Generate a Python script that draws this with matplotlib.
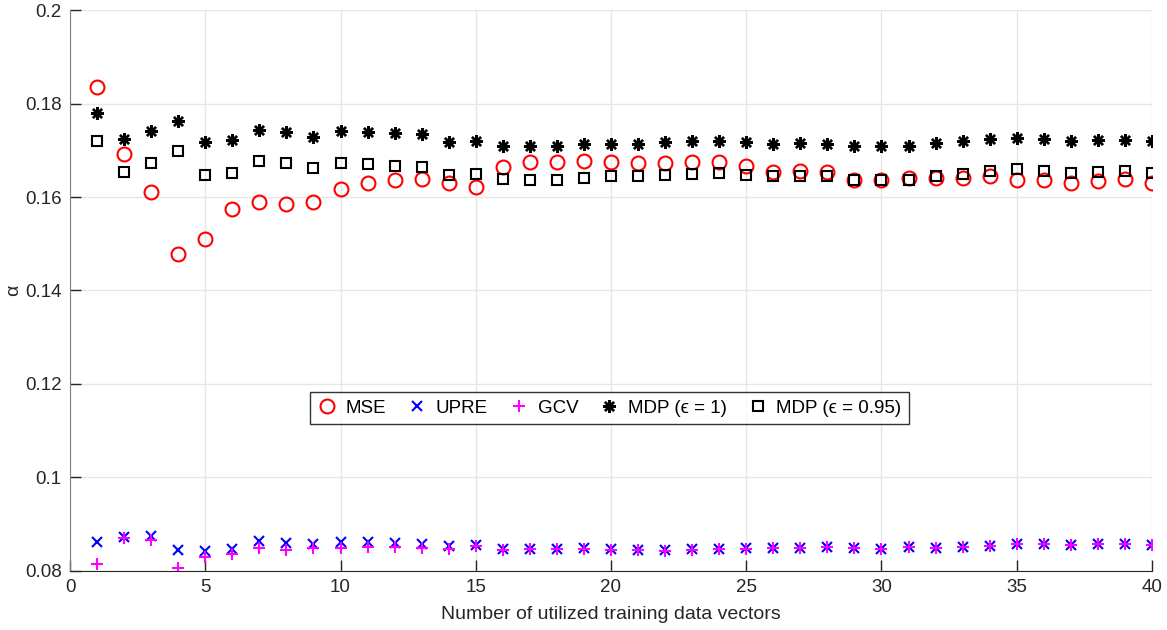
import matplotlib
matplotlib.use('Agg')
import matplotlib.pyplot as plt
import numpy as np

plt.rcParams['font.family'] = ['Liberation Sans', 'DejaVu Sans']

n_vectors = np.arange(1, 41)

mse = [0.1836, 0.1693, 0.1611, 0.1477, 0.1511, 0.1574, 0.1589, 0.1586, 0.1589, 0.1617,
       0.1630, 0.1636, 0.1639, 0.1631, 0.1621, 0.1664, 0.1674, 0.1675, 0.1678, 0.1674,
       0.1673, 0.1672, 0.1674, 0.1674, 0.1667, 0.1653, 0.1656, 0.1654, 0.1636, 0.1637,
       0.1641, 0.1641, 0.1641, 0.1644, 0.1636, 0.1636, 0.1631, 0.1634, 0.1638, 0.1630]
upre = [0.0863, 0.0872, 0.0875, 0.0844, 0.0843, 0.0847, 0.0864, 0.0859, 0.0858, 0.0861,
        0.0861, 0.0859, 0.0857, 0.0853, 0.0855, 0.0846, 0.0847, 0.0848, 0.0849, 0.0846,
        0.0845, 0.0844, 0.0846, 0.0847, 0.0849, 0.0849, 0.0849, 0.0851, 0.0850, 0.0848,
        0.0852, 0.0850, 0.0852, 0.0854, 0.0857, 0.0857, 0.0856, 0.0857, 0.0857, 0.0856]
gcv = [0.0815, 0.0870, 0.0866, 0.0807, 0.0829, 0.0836, 0.0849, 0.0844, 0.0849, 0.0849,
       0.0852, 0.0851, 0.0850, 0.0848, 0.0853, 0.0845, 0.0846, 0.0847, 0.0848, 0.0845,
       0.0844, 0.0843, 0.0845, 0.0846, 0.0848, 0.0849, 0.0849, 0.0851, 0.0850, 0.0847,
       0.0852, 0.0850, 0.0852, 0.0854, 0.0857, 0.0857, 0.0856, 0.0857, 0.0857, 0.0856]
mdp_1 = [0.1779, 0.1724, 0.1741, 0.1763, 0.1717, 0.1721, 0.1744, 0.1739, 0.1729, 0.1741,
         0.1739, 0.1736, 0.1734, 0.1718, 0.1720, 0.1709, 0.1709, 0.1709, 0.1713, 0.1714,
         0.1713, 0.1717, 0.1719, 0.1720, 0.1717, 0.1714, 0.1716, 0.1714, 0.1709, 0.1709,
         0.1709, 0.1716, 0.1719, 0.1724, 0.1727, 0.1725, 0.1720, 0.1721, 0.1723, 0.1720]
mdp_095 = [0.1719, 0.1654, 0.1673, 0.1699, 0.1648, 0.1651, 0.1677, 0.1673, 0.1661, 0.1673,
           0.1670, 0.1666, 0.1664, 0.1648, 0.1650, 0.1639, 0.1637, 0.1637, 0.1641, 0.1644,
           0.1644, 0.1647, 0.1650, 0.1651, 0.1646, 0.1644, 0.1645, 0.1645, 0.1637, 0.1637,
           0.1637, 0.1645, 0.1650, 0.1655, 0.1659, 0.1656, 0.1651, 0.1654, 0.1655, 0.1651]

x_ticks = [0, 5, 10, 15, 20, 25, 30, 35, 40]
y_ticks = [0.08, 0.1, 0.12, 0.14, 0.16, 0.18, 0.2]
y_tick_labels = ['0.08', '0.1', '0.12', '0.14', '0.16', '0.18', '0.2']

fig = plt.figure(figsize=(11.67, 6.3), dpi=100)
ax = fig.add_axes([0.06, 0.0937, 0.9271, 0.8904])

ax.plot(n_vectors, mse, linestyle='none', marker='o', ms=10, mfc='none', mec='red', mew=1.5, label='MSE')
ax.plot(n_vectors, upre, linestyle='none', marker='x', ms=6.5, color='blue', mew=1.5, label='UPRE')
ax.plot(n_vectors, gcv, linestyle='none', marker='+', ms=8, color='magenta', mew=1.5, label='GCV')
ax.plot(n_vectors, mdp_1, linestyle='none', marker=(8, 2, 0), ms=9, color='black', mew=1.7,
        label='MDP (ϵ = 1)')
ax.plot(n_vectors, mdp_095, linestyle='none', marker='s', ms=7.5, mfc='none', mec='black', mew=1.5,
        label='MDP (ϵ = 0.95)')

ax.set_xlim(0, 40)
ax.set_ylim(0.08, 0.2)
ax.set_xticks(x_ticks)
ax.set_yticks(y_ticks)
ax.set_yticklabels(y_tick_labels)

ax.grid(True, color='#e6e6e6', linewidth=1)
ax.set_axisbelow(True)
ax.spines['top'].set_visible(False)
ax.spines['right'].set_visible(False)
ax.spines['bottom'].set_color('#262626')
ax.spines['left'].set_color('#808080')
ax.tick_params(direction='in', length=8, width=1, colors='#262626', labelsize=13.5, pad=6)

ax.set_xlabel('Number of utilized training data vectors', fontsize=14, color='#262626', labelpad=7)
ax.set_ylabel('α', fontsize=14, color='#262626', labelpad=2)

leg = ax.legend(loc='center', bbox_to_anchor=(0.4986, 0.29), ncol=5, fontsize=13.5,
                frameon=True, fancybox=False, edgecolor='black', handlelength=1.0,
                handletextpad=0.5, columnspacing=1.15, borderpad=0.4, borderaxespad=0)
leg.get_frame().set_linewidth(1.0)

fig.savefig('out.png', dpi=100)
